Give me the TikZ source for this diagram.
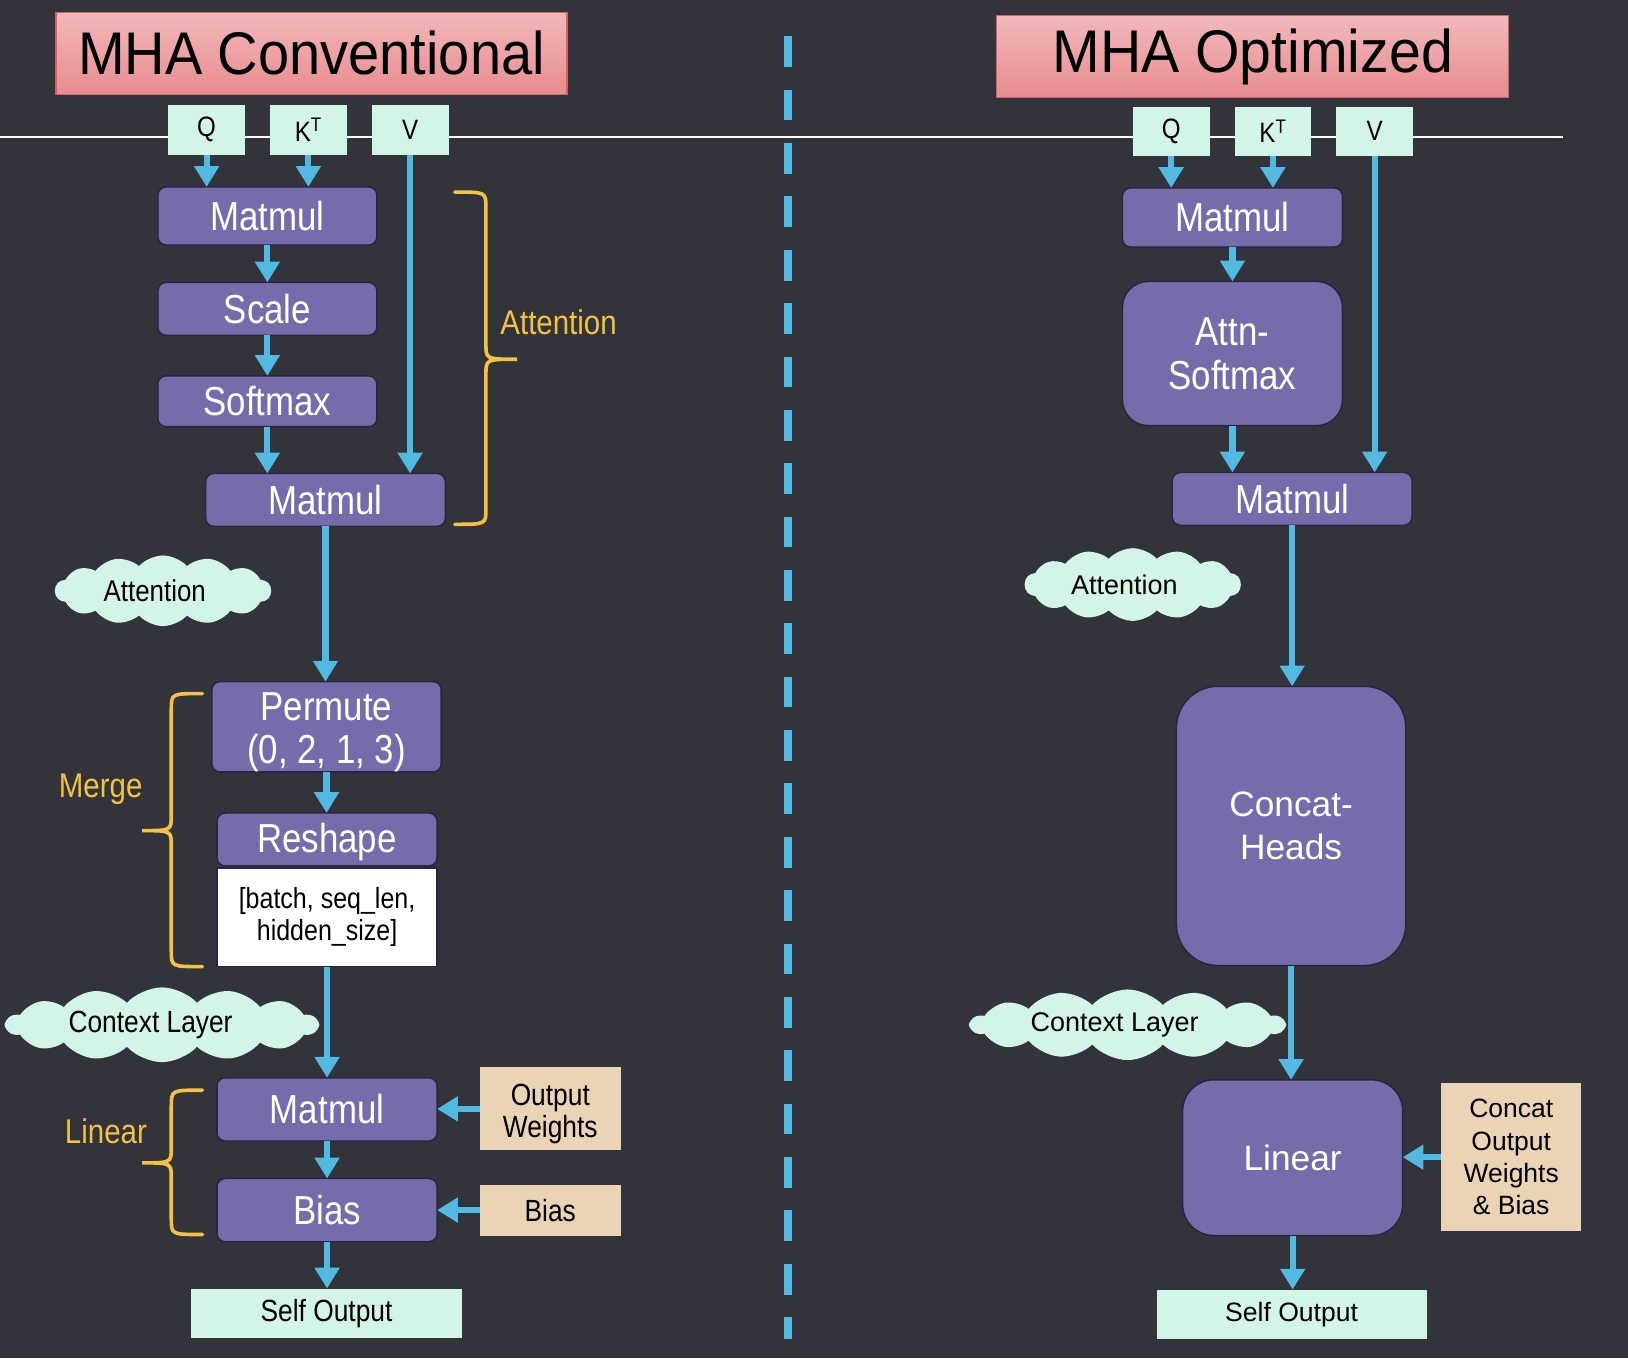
\documentclass[tikz,border=0pt]{standalone}
\usepackage{fontspec}
\setmainfont{Liberation Sans}
\newfontfamily\nfont[FakeStretch=0.86]{Liberation Sans}
\newfontfamily\tfont[FakeStretch=0.93]{Liberation Sans}
\newfontfamily\tfontR[FakeStretch=0.95]{Liberation Sans}
\usetikzlibrary{shapes.symbols,arrows.meta}
\definecolor{bg}{RGB}{50,51,59}
\definecolor{purp}{RGB}{118,108,171}
\definecolor{purpline}{RGB}{40,38,66}
\definecolor{mint}{RGB}{211,245,232}
\definecolor{tanc}{RGB}{235,212,182}
\definecolor{pinkT}{RGB}{242,184,186}
\definecolor{pinkB}{RGB}{232,140,144}
\definecolor{pinkD}{RGB}{214,96,100}
\definecolor{arrblue}{RGB}{82,186,226}
\definecolor{yel}{RGB}{244,194,66}
\begin{document}
\begin{tikzpicture}[x=1pt,y=-1pt,
  box/.style={rectangle, inner sep=0pt, outer sep=0pt, align=center},
  proc/.style={box, rounded corners=8pt, fill=purp, draw=purpline, line width=1.5pt, text=white, font=\nfont\fontsize{39}{42}\selectfont},
  procR/.style={proc, font=\fontsize{34}{41}\selectfont},
  inp/.style={box, fill=mint, text=black, font=\nfont\fontsize{27}{30}\selectfont},
  outp/.style={box, fill=mint, text=black},
  wt/.style={box, fill=tanc, text=black},
  dimbox/.style={box, fill=white, draw=purpline, line width=1.5pt, text=black, font=\nfont\fontsize{28}{31}\selectfont},
  ttl/.style={box, top color=pinkT, bottom color=pinkB, draw=pinkD, line width=1.2pt, text=black, font=\tfont\fontsize{58}{60}\selectfont},
  cld/.style={cloud, cloud puffs=14, cloud puff arc=95, cloud ignores aspect, fill=mint, inner sep=0pt, text=black},
  arr/.style={draw=arrblue, line width=6pt, -{Triangle[width=23pt,length=20pt]}},
  brc/.style={draw=yel, line width=3.5pt, line cap=round},
  ylab/.style={text=yel, font=\nfont\fontsize{33}{36}\selectfont},
  divider/.style={draw=arrblue, line width=7.7pt, dash pattern=on 29.6pt off 21.8pt}
]
\useasboundingbox (0,0) rectangle (1568,1308);
\fill[bg] (0,0) rectangle (1568,1308);

% horizontal rule and divider
\coordinate (hl1) at (0,132);
\coordinate (hl2) at (1505,132);
\draw[white, line width=1.3pt] (hl1) -- (hl2);
\coordinate (dv1) at (759,35);
\coordinate (dv2) at (759,1290);
\draw[divider] (dv1) -- (dv2);

% ---------------- Left: conventional ----------------
\node[ttl, minimum width=492, minimum height=79] (titleL) at (300,51.5) {MHA Conventional};
\node[inp, minimum width=74, minimum height=48] (qL) at (199,125) {Q};
\node[inp, minimum width=74, minimum height=48] (kL) at (297,125) {K\textsuperscript{T}};
\node[inp, minimum width=74, minimum height=48] (vL) at (395,125) {V};

\node[proc, minimum width=211, minimum height=56] (mm1L) at (257.5,208) {Matmul};
\node[proc, minimum width=211, minimum height=51] (scL) at (257.5,297.5) {Scale};
\node[proc, minimum width=211, minimum height=49] (smL) at (257.5,386.5) {Softmax};
\node[proc, minimum width=231, minimum height=51] (mm2L) at (313.5,481.5) {Matmul};

\node[cld, minimum width=208, minimum height=68, font=\nfont\fontsize{29}{31}\selectfont] (attL) at (157,569) {\hspace*{-16pt}Attention};

\node[proc, minimum width=221, minimum height=86] (permL) at (314.5,700) {\rule{0pt}{37pt}Permute\\(0, 2, 1, 3)};
\node[proc, minimum width=212, minimum height=51] (reshL) at (315,808.5) {\rule{0pt}{34pt}Reshape};
\node[dimbox, minimum width=212, minimum height=95] (dimL) at (315,883.5) {[batch, seq\_len,\\hidden\_size]};

\node[cld, minimum width=300, minimum height=72, font=\nfont\fontsize{29.5}{31}\selectfont] (ctxL) at (156,987) {\hspace*{-22pt}Context Layer};

\node[proc, minimum width=212, minimum height=61] (mm3L) at (315,1068.5) {Matmul};
\node[proc, minimum width=212, minimum height=61] (biasL) at (315,1165.5) {Bias};
\node[wt, minimum width=136, minimum height=80, font=\nfont\fontsize{29.5}{31}\selectfont] (owL) at (530,1068) {\rule{0pt}{30pt}Output\\Weights};
\node[wt, minimum width=136, minimum height=49, font=\nfont\fontsize{29.5}{31}\selectfont] (bL) at (530,1165.5) {Bias};
\node[outp, minimum width=261, minimum height=48, font=\nfont\fontsize{29.5}{31}\selectfont] (soL) at (314.5,1265) {Self Output};

\draw[arr] (qL.south) -- (qL.south |- mm1L.north);
\draw[arr] (kL.south) -- (kL.south |- mm1L.north);
\draw[arr] (vL.south) -- (vL.south |- mm2L.north);
\draw[arr] (mm1L.south) -- (scL.north);
\draw[arr] (scL.south) -- (smL.north);
\draw[arr] (smL.south) -- (smL.south |- mm2L.north);
\draw[arr] (mm2L.south) -- (mm2L.south |- permL.north);
\draw[arr] (permL.south) -- (permL.south |- reshL.north);
\draw[arr] (dimL.south) -- (mm3L.north);
\draw[arr] (mm3L.south) -- (biasL.north);
\draw[arr] (owL.west) -- (owL.west -| mm3L.east);
\draw[arr] (bL.west) -- (bL.west -| biasL.east);
\draw[arr] (biasL.south) -- (biasL.south |- soL.north);

% braces
\draw[brc] (438,185) .. controls (468,185) .. (468,200) -- (468,331)
  .. controls (468,346) .. (498,346) .. controls (468,346) .. (468,361)
  -- (468,490) .. controls (468,505) .. (438,505);
\node[ylab] (attLab) at (538,310) {Attention};
\draw[brc] (195,668) .. controls (165,668) .. (165,683) -- (165,785)
  .. controls (165,800) .. (137,800) .. controls (165,800) .. (165,815)
  -- (165,916) .. controls (165,931) .. (195,931);
\node[ylab] (mergeLab) at (97,760) {Merge};
\draw[brc] (195,1050) .. controls (165,1050) .. (165,1065) -- (165,1105)
  .. controls (165,1120) .. (137,1120) .. controls (165,1120) .. (165,1135)
  -- (165,1174) .. controls (165,1189) .. (195,1189);
\node[ylab] (linLab) at (102,1090) {Linear};

% ---------------- Right: optimized ----------------
\node[ttl, minimum width=493, minimum height=79, font=\tfontR\fontsize{58}{60}\selectfont] (titleR) at (1206.5,54.5) {MHA Optimized};
\node[inp, minimum width=74, minimum height=47] (qR) at (1128,126.5) {Q};
\node[inp, minimum width=74, minimum height=47] (kR) at (1226,126.5) {K\textsuperscript{T}};
\node[inp, minimum width=74, minimum height=47] (vR) at (1324,126.5) {V};

\node[proc, minimum width=212, minimum height=57] (mm1R) at (1187,209.5) {Matmul};
\node[proc, rounded corners=25pt, minimum width=212, minimum height=139] (asR) at (1187,340.5) {Attn-\\Softmax};
\node[proc, minimum width=231, minimum height=51] (mm2R) at (1244.5,480.5) {Matmul};

\node[cld, minimum width=208, minimum height=70, font=\fontsize{26}{28}\selectfont] (attR) at (1091,563) {\hspace*{-16pt}Attention};

\node[procR, rounded corners=40pt, minimum width=221, minimum height=269] (chR) at (1243.5,795.5) {Concat-\\Heads};

\node[cld, minimum width=302, minimum height=68, font=\fontsize{26}{28}\selectfont] (ctxR) at (1086,987) {\hspace*{-25pt}Context Layer};

\node[procR, rounded corners=30pt, minimum width=212, minimum height=150] (linR) at (1245,1115) {Linear};
\node[wt, minimum width=135, minimum height=143, font=\fontsize{25.5}{31}\selectfont] (cowR) at (1455.5,1114.5) {Concat\\Output\\Weights\\\& Bias};
\node[outp, minimum width=260, minimum height=48, font=\fontsize{25.6}{28}\selectfont] (soR) at (1244,1266) {Self Output};

\draw[arr] (qR.south) -- (qR.south |- mm1R.north);
\draw[arr] (kR.south) -- (kR.south |- mm1R.north);
\draw[arr] (vR.south) -- (vR.south |- mm2R.north);
\draw[arr] (mm1R.south) -- (asR.north);
\draw[arr] (asR.south) -- (asR.south |- mm2R.north);
\draw[arr] (mm2R.south) -- (mm2R.south |- chR.north);
\draw[arr] (chR.south) -- (chR.south |- linR.north);
\draw[arr] (cowR.west) -- (cowR.west -| linR.east);
\draw[arr] (linR.south) -- (linR.south |- soR.north);
\end{tikzpicture}
\end{document}
